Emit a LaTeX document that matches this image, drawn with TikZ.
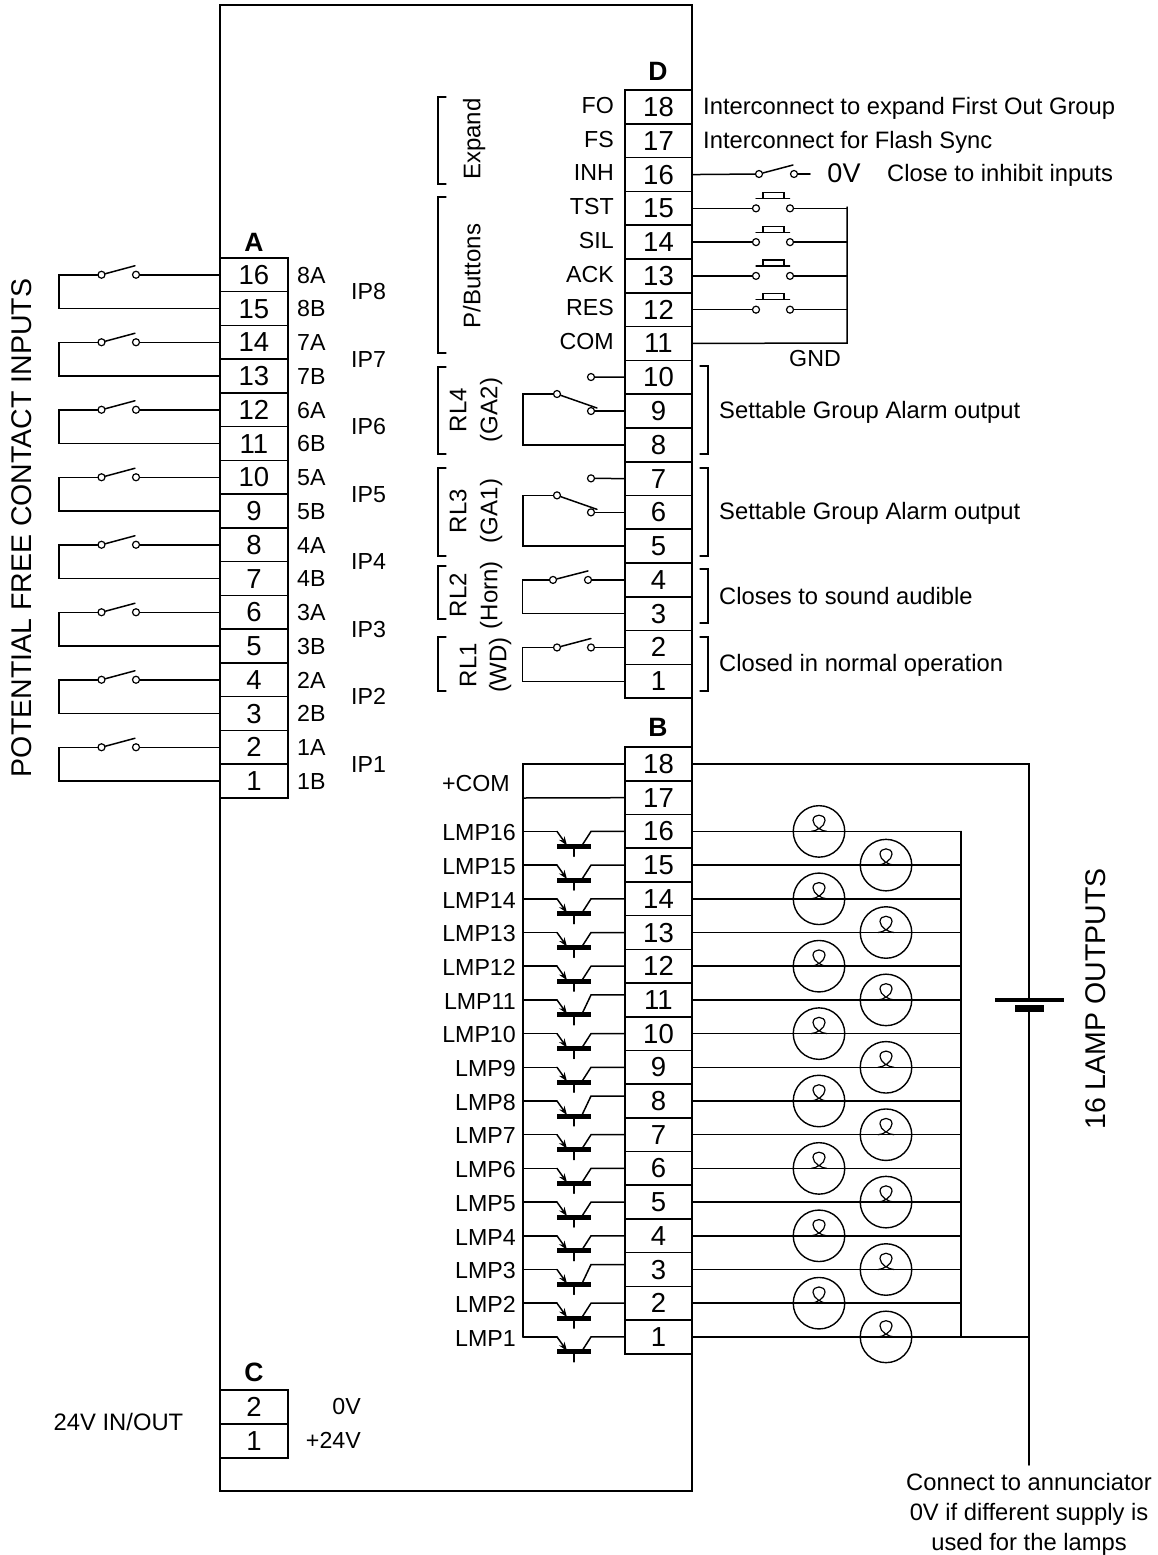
\documentclass[tikz,border=0pt]{standalone}
\usepackage{fontspec}
\usetikzlibrary{arrows.meta}
\setmainfont{Liberation Sans}
\tikzset{
  wire/.style={line width=1.5pt},
  term/.style={draw,line width=1.6pt,minimum width=67.5pt,minimum height=33.75pt,inner sep=0pt,
    font=\fontsize{27.5}{29}\selectfont,text height=19pt,text depth=0pt},
  contact/.style={draw,circle,line width=1.2pt,fill=white,inner sep=0pt,minimum size=7pt},
  lamp/.style={draw,circle,line width=1.4pt,inner sep=0pt,minimum size=51.5pt},
  lbl/.style={inner sep=0pt,font=\fontsize{23.2}{25}\selectfont,text height=16.5pt,text depth=0pt},
  info/.style={lbl,anchor=west,font=\fontsize{23.75}{25}\selectfont},
  sidelbl/.style={lbl,rotate=90,font=\fontsize{24}{26}\selectfont},
  big/.style={inner sep=0pt,font=\fontsize{28.5}{30}\selectfont,rotate=90},
  blockname/.style={inner sep=0pt,font=\bfseries\fontsize{26.5}{28}\selectfont},
  lampcoil/.pic={\draw[line width=1.2pt] (-8,0) .. controls (-3,0) and (6,-5) .. (6,-11)
    .. controls (6,-18) and (-6,-18) .. (-6,-11) .. controls (-6,-5) and (3,0) .. (8,0);}
}
\begin{document}
\begin{tikzpicture}[x=1pt,y=-1pt,line cap=round,line join=miter]
\useasboundingbox (0,0) rectangle (1158,1555);
\draw[wire] (220,5) rectangle (692,1491);
% terminal blocks
\foreach \n in {1,...,16}{
  \node[term] (A\n) at (254,{781-(\n-1)*33.75}) {\n};
}
\foreach \n in {1,...,18}{
  \node[term] (D\n) at (658.5,{107+(18-\n)*33.78}) {\n};
  \node[term] (B\n) at (658.5,{764+(18-\n)*33.7}) {\n};
}
\node[term] (C2) at (254,1407) {2};
\node[term] (C1) at (254,1441) {1};
\node[blockname] (nameA) at (254,242) {A};
\node[blockname] (nameD) at (658,71) {D};
\node[blockname] (nameB) at (658,727) {B};
\node[blockname] (nameC) at (254,1372) {C};
% inputs
\foreach \i in {1,...,8}{
  \pgfmathtruncatemacro\a{2*\i}
  \pgfmathtruncatemacro\b{2*\i-1}
  \pgfmathsetmacro\ya{781-(\a-1)*33.75}
  \pgfmathsetmacro\yb{781-(\b-1)*33.75}
  \node[contact] (ina\i) at (101.5,\ya) {};
  \node[contact] (inb\i) at (136,\ya) {};
  \coordinate (intip\i) at (135,\ya-9);
  \coordinate (inl\i) at (59,\ya);
  \coordinate (inm\i) at (59,\yb);
  \draw[wire] (A\a.west) -- (inb\i);
  \draw[wire] (ina\i) -- (intip\i);
  \draw[wire] (ina\i) -- (inl\i) -- (inm\i) -- (A\b.west);
  \node[lbl,anchor=west] (tagA\i) at (297,\ya) {\i A};
  \node[lbl,anchor=west] (tagB\i) at (297,\yb) {\i B};
  \node[lbl,anchor=west] (ip\i) at (351,{(\ya+\yb)/2}) {IP\i};
}
\node[big] (inputs) at (22,528) {POTENTIAL FREE CONTACT INPUTS};
% block C
\node[lbl,anchor=east] (cv0) at (361,1406) {0V};
\node[lbl,anchor=east] (cv24) at (361,1440) {+24V};
\node[lbl,font=\fontsize{23.8}{25}\selectfont] (cin) at (118.5,1422) {24V IN/OUT};
% block D labels
\foreach \n/\t in {18/FO,17/FS,16/INH,15/TST,14/SIL,13/ACK,12/RES,11/COM}{
  \node[lbl,anchor=east] (tag\t) at (614,{105+(18-\n)*33.78}) {\t};
}
\node[info] (infoFO) at (703,106) {Interconnect to expand First Out Group};
\node[info] (infoFS) at (703,140) {Interconnect for Flash Sync};
\node[contact] (inha) at (759,174) {};
\node[contact] (inhb) at (794,174) {};
\coordinate (inhtip) at (793,165);
\coordinate (inhend) at (810,174);
\draw[wire] (D16.east) -- (inha);
\draw[wire] (inha) -- (inhtip);
\draw[wire] (inhb) -- (inhend);
\node[lbl,font=\fontsize{27}{29}\selectfont,text height=19pt] (zero) at (844,173) {0V};
\node[info] (inhinfo) at (887,173) {Close to inhibit inputs};
% push buttons
\coordinate (gndtop) at (847,207);
\coordinate (gndbot) at (847,343);
\draw[wire] (gndtop) -- (gndbot) -- (D11.east);
\foreach \n in {15,14,13,12}{
  \pgfmathsetmacro\y{107+(18-\n)*33.78}
  \node[contact] (pba\n) at (756,\y) {};
  \node[contact] (pbb\n) at (790,\y) {};
  \coordinate (pbr\n) at (847,\y);
  \draw[wire] (D\n.east) -- (pba\n);
  \draw[wire] (pbb\n) -- (pbr\n);
  \draw[line width=1.2pt] (756,\y-10) -- (763,\y-10) -- (763,\y-16) -- (784,\y-16) -- (784,\y-10) -- (790,\y-10) -- (756,\y-10);
}
\node[lbl] (gnd) at (815,358) {GND};
% relays
\foreach \k/\no/\com/\nc in {4/10/9/8,3/7/6/5}{
  \pgfmathsetmacro\y{107+(18-\com)*33.78}
  \node[contact] (rno\k) at (591,\y-34) {};
  \node[contact] (rfx\k) at (591,\y) {};
  \node[contact] (rcm\k) at (557,\y-17) {};
  \coordinate (rtip\k) at (597,\y-3);
  \coordinate (rlf\k) at (523,\y-17);
  \coordinate (rlb\k) at (523,\y+33.78);
  \draw[wire] (D\no.west) -- (rno\k);
  \draw[wire] (D\com.west) -- (rfx\k);
  \draw[wire] (rcm\k) -- (rtip\k);
  \draw[wire] (rcm\k) -- (rlf\k) -- (rlb\k) -- (D\nc.west);
}
\foreach \k/\a/\b/\xa/\xb in {2/4/3/553/588,1/2/1/557/591}{
  \pgfmathsetmacro\y{107+(18-\a)*33.78}
  \node[contact] (rca\k) at (\xa,\y) {};
  \node[contact] (rcb\k) at (\xb,\y) {};
  \coordinate (rtop\k) at (\xb,\y-9);
  \coordinate (rlf\k) at (522.5,\y);
  \coordinate (rlb\k) at (522.5,\y+33.78);
  \draw[wire] (D\a.west) -- (rcb\k);
  \draw[wire] (rca\k) -- (rtop\k);
  \draw[wire] (rca\k) -- (rlf\k) -- (rlb\k) -- (D\b.west);
}
% brackets
\foreach \ya/\yb in {97/184,197/353,367/454,468/556,566/619,637/691}{
  \draw[line width=1.2pt] (446,\ya) -- (438,\ya) -- (438,\yb) -- (446,\yb);
}
\foreach \ya/\yb in {366/454,468/556,569/623,637/691}{
  \draw[line width=1.2pt] (700,\ya) -- (708,\ya) -- (708,\yb) -- (700,\yb);
}
\node[sidelbl] (expand) at (472,139) {Expand};
\node[sidelbl] (pbuttons) at (472,276) {P/Buttons};
\node[sidelbl] (rl4) at (458,410) {RL4};
\node[sidelbl] (ga2) at (489,410) {(GA2)};
\node[sidelbl] (rl3) at (458,511) {RL3};
\node[sidelbl] (ga1) at (489,511) {(GA1)};
\node[sidelbl] (rl2) at (458,595) {RL2};
\node[sidelbl] (horn) at (489,595) {(Horn)};
\node[sidelbl] (rl1) at (468,665) {RL1};
\node[sidelbl] (wd) at (498,665) {(WD)};
\node[info] (info4) at (719,410) {Settable Group Alarm output};
\node[info] (info3) at (719,511) {Settable Group Alarm output};
\node[info] (info2) at (719,596) {Closes to sound audible};
\node[info] (info1) at (719,663) {Closed in normal operation};
% block B, transistors
\coordinate (bustop) at (523,764);
\coordinate (busmid) at (523,798);
\coordinate (busbot) at (523,1337);
\draw[wire] (B18.west) -- (bustop) -- (busbot);
\draw[wire] (B17.west) -- (busmid);
\node[lbl,anchor=east] (plus) at (510,783) {+COM};
\foreach \n/\up in {1/0,2/0,3/5,4/0,5/0,6/0,7/0,8/5,9/0,10/0,11/5,12/0,13/0,14/0,15/0,16/0}{
  \pgfmathsetmacro\y{764+(18-\n)*33.7}
  \coordinate (emi\n) at (523,\y);
  \coordinate (colr\n) at ([yshift=\up pt]B\n.west);
  \draw[wire] (emi\n) -- (557,\y);
  \draw[wire,-{Stealth[length=9pt,width=6.5pt]}] (557,\y) -- (567,\y+14);
  \draw[wire] (colr\n) -- (591,\y-\up) -- (582,\y+14);
  \draw[line width=5pt,line cap=butt] (557,\y+15) -- (591,\y+15);
  \draw[line width=1.2pt] (574,\y+15) -- (574,\y+25);
  \node[lbl,anchor=east] (lmp\n) at (516,\y+1) {LMP\n};
}
% lamps
\foreach \n in {1,...,16}{
  \pgfmathsetmacro\y{764+(18-\n)*33.7}
  \pgfmathsetmacro\lx{isodd(\n)?886:819}
  \node[lamp] (lamp\n) at (\lx,\y) {};
  \pic at (\lx,\y) {lampcoil};
  \coordinate (ret\n) at (961,\y);
  \draw[wire] (B\n.east) -- (ret\n);
}
\draw[wire] (ret16) -- (ret1);
% battery
\coordinate (batcorner) at (1029,764);
\coordinate (battop) at (1029,1000);
\coordinate (batlow) at (1029,1008);
\coordinate (batend) at (1029,1465);
\coordinate (batjoin) at (1029,{764+17*33.7});
\draw[wire] (B18.east) -- (batcorner) -- (battop);
\draw[wire] (batlow) -- (batend);
\draw[wire] (ret1) -- (batjoin);
\draw[line width=3.5pt,line cap=butt] (995,1000) -- (1064,1000);
\draw[line width=7pt,line cap=butt] (1015,1008) -- (1044,1008);
\node[big] (lampout) at (1096,999) {16 LAMP OUTPUTS};
\node[inner sep=0pt,align=center,font=\fontsize{23.75}{30}\selectfont] (note) at (1029,1514.5) {Connect to annunciator\\0V if different supply is\\used for the lamps};
\end{tikzpicture}
\end{document}
